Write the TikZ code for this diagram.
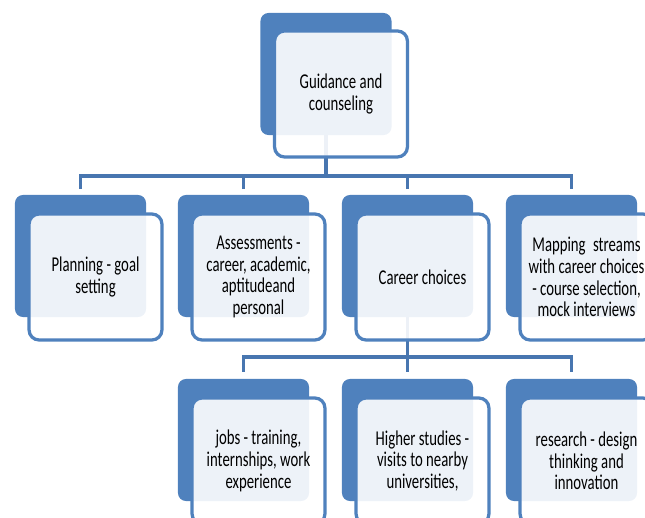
\documentclass[tikz,border=0pt]{standalone}
\usepackage{fontspec}
\setmainfont{Carlito}[FakeStretch=0.7]
\usepackage{tikz}
\definecolor{smartblue}{HTML}{4F81BD}
\definecolor{linkblue}{HTML}{4876B0}
\tikzset{
  backbox/.style={fill=smartblue, rounded corners=0.2cm, minimum width=3.275cm, minimum height=3.05cm},
  frontbox/.style={draw=smartblue, line width=2.3pt, fill=white, fill opacity=0.9, text opacity=1,
    rounded corners=0.25cm, minimum width=3.32cm, minimum height=3.15cm,
    align=center, font=\fontsize{15}{15.4}\selectfont},
  link/.style={linkblue, line width=2.6pt}
}

\begin{document}
\begin{tikzpicture}[x=0.025cm, y=-0.025cm]
\clip (0,0) rectangle (645,518);

% back boxes
\node[backbox] (guideB) at (326,74) {};
\node[backbox] (planB) at (80.5,256) {};
\node[backbox] (assessB) at (243.5,256) {};
\node[backbox] (careerB) at (407.5,256) {};
\node[backbox] (mapB) at (571.5,256) {};
\node[backbox] (jobsB) at (243.5,440) {};
\node[backbox] (higherB) at (407.5,440) {};
\node[backbox] (researchB) at (571.5,440) {};

% connectors
\coordinate (bar1) at (326,176);
\coordinate (bar2) at (407.5,357);
\draw[link] (guideB.south) -- (bar1);
\draw[link, shorten <=4pt, shorten >=4pt] (planB.north) |- (bar1) -| (mapB.north);
\draw[link, shorten <=4pt] (assessB.north) |- (bar1);
\draw[link, shorten <=4pt] (careerB.north) |- (bar1);
\draw[link] (careerB.south) -- (bar2);
\draw[link, shorten <=5pt, shorten >=5pt] (jobsB.north) |- (bar2) -| (researchB.north);
\draw[link, shorten >=5pt] (bar2) -- (higherB.north);

% front boxes
\node[frontbox] (guide) at (341,94) {Guidance and\\counseling};
\node[frontbox] (plan) at (95.5,277) {Planning - goal\\setting};
\node[frontbox] (assess) at (258.5,277) {Assessments -\\career, academic,\\aptitudeand\\personal};
\node[frontbox] (career) at (422.5,277) {Career choices};
\node[frontbox] (map) at (586.5,277) {Mapping\hspace{0.35em}streams\\with career choices\\- course selection,\\mock interviews};
\node[frontbox] (jobs) at (258.5,461) {jobs - training,\\internships, work\\experience};
\node[frontbox] (higher) at (422.5,461) {Higher studies -\\visits to nearby\\universities,};
\node[frontbox] (research) at (586.5,461) {research - design\\thinking and\\innovation};

\end{tikzpicture}
\end{document}
